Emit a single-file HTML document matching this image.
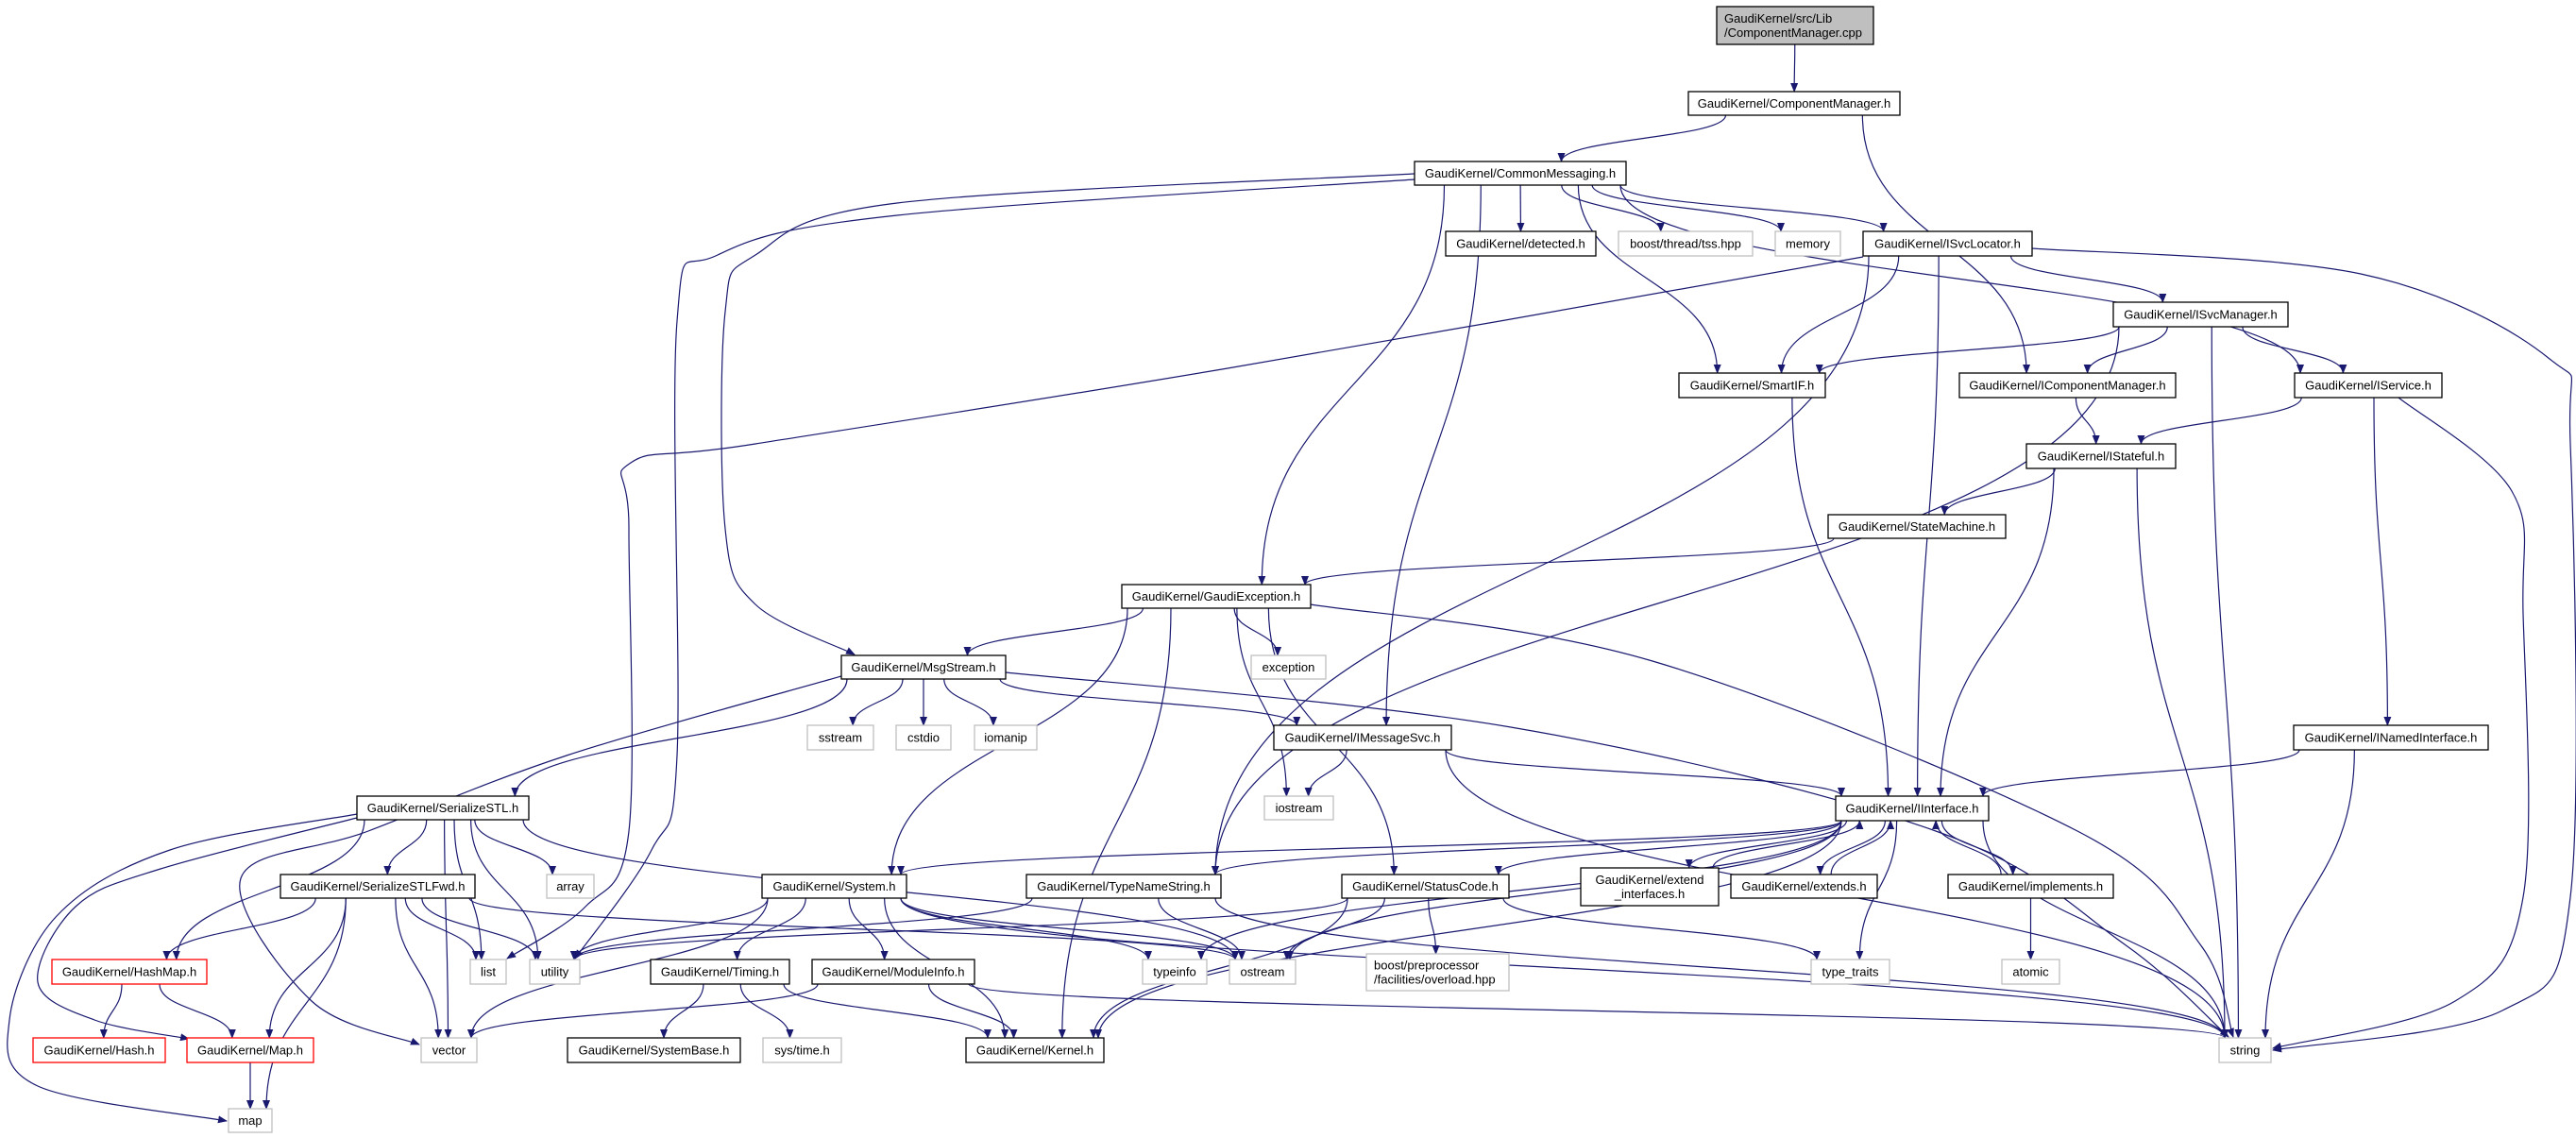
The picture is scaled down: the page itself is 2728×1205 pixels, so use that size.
<!DOCTYPE html>
<html><head><meta charset="utf-8"><style>
html,body{margin:0;padding:0;background:#fff;}
svg{display:block;}
text{font-family:"Liberation Sans",sans-serif;font-size:13px;fill:#000;}
</style></head><body>
<svg id="g" xmlns="http://www.w3.org/2000/svg" width="2728" height="1205" viewBox="0 0 2728 1205">
<defs><marker id="ah" markerWidth="10" markerHeight="8" refX="9" refY="4" orient="auto" markerUnits="userSpaceOnUse"><path d="M0,0 L10,4 L0,8 Z" fill="#191970"/></marker></defs>
<g id="E"></g><g id="N"></g>
</svg>
<script>
var N={
root:[1818,7,1984,47,["GaudiKernel/src/Lib","/ComponentManager.cpp"],"root","left"],
CMh:[1788,97,2012,122,"GaudiKernel/ComponentManager.h"],
CM:[1498,171,1722,196,"GaudiKernel/CommonMessaging.h"],
detected:[1531,245,1690,271,"GaudiKernel/detected.h"],
tss:[1714,245,1856,271,"boost/thread/tss.hpp","g"],
memory:[1880,245,1949,271,"memory","g"],
ISL:[1973,245,2152,271,"GaudiKernel/ISvcLocator.h"],
ISM:[2238,320,2423,346,"GaudiKernel/ISvcManager.h"],
SmartIF:[1778,395,1933,421,"GaudiKernel/SmartIF.h"],
ICM:[2075,395,2304,421,"GaudiKernel/IComponentManager.h"],
IService:[2430,395,2586,421,"GaudiKernel/IService.h"],
IStateful:[2146,470,2304,496,"GaudiKernel/IStateful.h"],
SM:[1936,545,2124,570,"GaudiKernel/StateMachine.h"],
GE:[1188,619,1388,644,"GaudiKernel/GaudiException.h"],
MS:[891,694,1065,719,"GaudiKernel/MsgStream.h"],
exception:[1325,694,1404,719,"exception","g"],
sstream:[855,768,925,794,"sstream","g"],
cstdio:[949,768,1007,794,"cstdio","g"],
iomanip:[1032,768,1098,794,"iomanip","g"],
IMS:[1349,768,1537,794,"GaudiKernel/IMessageSvc.h"],
INI:[2429,768,2635,794,"GaudiKernel/INamedInterface.h"],
iostream:[1339,843,1412,868,"iostream","g"],
SSTL:[378,843,560,868,"GaudiKernel/SerializeSTL.h"],
II:[1944,843,2106,869,"GaudiKernel/IInterface.h"],
SSTLF:[297,926,503,951,"GaudiKernel/SerializeSTLFwd.h"],
array:[579,926,629,951,"array","g"],
System:[807,926,960,951,"GaudiKernel/System.h"],
TNS:[1087,926,1293,951,"GaudiKernel/TypeNameString.h"],
SC:[1421,926,1598,951,"GaudiKernel/StatusCode.h"],
EI:[1674,919,1820,959,["GaudiKernel/extend","_interfaces.h"]],
extends:[1833,926,1988,951,"GaudiKernel/extends.h"],
impl:[2063,926,2238,951,"GaudiKernel/implements.h"],
HashMap:[55,1016,219,1042,"GaudiKernel/HashMap.h","r"],
list:[498,1016,536,1042,"list","g"],
utility:[561,1016,614,1042,"utility","g"],
Timing:[689,1016,836,1042,"GaudiKernel/Timing.h"],
MI:[860,1016,1032,1042,"GaudiKernel/ModuleInfo.h"],
typeinfo:[1210,1016,1278,1042,"typeinfo","g"],
ostream:[1302,1016,1372,1042,"ostream","g"],
bpp:[1447,1010,1598,1049,["boost/preprocessor","/facilities/overload.hpp"],"g","left"],
tt:[1918,1016,2001,1042,"type_traits","g"],
atomic:[2120,1016,2181,1042,"atomic","g"],
Hash:[35,1099,175,1125,"GaudiKernel/Hash.h","r"],
Map:[198,1099,332,1125,"GaudiKernel/Map.h","r"],
vector:[446,1099,505,1125,"vector","g"],
SB:[601,1099,784,1125,"GaudiKernel/SystemBase.h"],
systime:[808,1099,891,1125,"sys/time.h","g"],
Kernel:[1023,1099,1169,1125,"GaudiKernel/Kernel.h"],
string:[2350,1099,2405,1125,"string","g"],
map:[242,1174,288,1199,"map","g"]
};
var E={
root:["CMh"],CMh:["CM","ICM"],
CM:["MS","utility","GE","IMS","SmartIF","detected","tss","memory","ISL","IService"],
ISL:["list","SmartIF","II","TNS","ISM","string"],
ISM:["SmartIF","ICM","IService","string","TNS"],
ICM:["IStateful"],IService:["IStateful","INI","string"],
IStateful:["SM","II","string"],SmartIF:["II"],SM:["GE"],
GE:["MS","System","Kernel","SC","iostream","exception","string"],
MS:["vector","SSTL","sstream","cstdio","iomanip","IMS","string"],
IMS:["iostream","II","string"],INI:["II","string"],
II:["System","TNS","SC","typeinfo","ostream","EI","extends","impl","tt","string","Kernel"],
EI:["II"],extends:["II"],impl:["II","atomic"],
SSTL:["map","Map","HashMap","vector","SSTLF","list","array","utility","ostream"],
SSTLF:["HashMap","Map","map","vector","list","utility","ostream"],
HashMap:["Hash","Map"],Map:["map"],
System:["utility","vector","Timing","MI","typeinfo","ostream","Kernel","string"],
TNS:["ostream","string","utility"],
SC:["ostream","Kernel","bpp","tt","utility"],
Timing:["SB","systime","Kernel"],MI:["vector","Kernel","string"]
};
var R={
"CM>utility":[[1498,190],[950,228],[760,270],[717,340],[717,800],[690,900],[609,1015]],
"CM>MS":[[1498,184],[950,215],[800,270],[768,330],[768,560],[800,640],[905,693]],
"ISL>list":[[1973,272],[1300,390],[800,470],[668,490],[666,560],[666,880],[620,960],[537,1015]],
"MS>vector":[[891,716],[600,800],[390,880],[255,930],[330,1060],[444,1106]],
"SSTL>map":[[378,862],[180,900],[60,970],[10,1080],[40,1150],[240,1187]],
"SSTL>Map":[[378,866],[170,920],[80,960],[40,1040],[100,1080],[200,1100]],
"ISL>string":[[2152,263],[2500,290],[2700,380],[2722,470],[2722,950],[2650,1070],[2407,1112]],
"IService>string":[[2540,421],[2660,520],[2672,650],[2672,950],[2600,1060],[2407,1110]],
"GE>string":[[1388,640],[1750,700],[2200,880],[2330,1000],[2365,1098]],
"MS>string":[[1065,712],[1600,770],[2050,880],[2250,1000],[2360,1098]]
};
var NS="http://www.w3.org/2000/svg",eg=document.getElementById("E"),ng=document.getElementById("N");
function el(t,a,p){var e=document.createElementNS(NS,t);for(var k in a)e.setAttribute(k,a[k]);p.appendChild(e);return e;}
function cl(v,a,b){return Math.max(a,Math.min(b,v));}
function cr(P){var d="M"+P[0][0]+","+P[0][1];
 for(var i=0;i<P.length-1;i++){var p0=P[i-1]||P[i],p1=P[i],p2=P[i+1],p3=P[i+2]||P[i+1];
  var c1=[p1[0]+(p2[0]-p0[0])/6,p1[1]+(p2[1]-p0[1])/6],c2=[p2[0]-(p3[0]-p1[0])/6,p2[1]-(p3[1]-p1[1])/6];
  d+=" C"+c1[0]+","+c1[1]+" "+c2[0]+","+c2[1]+" "+p2[0]+","+p2[1];}
 return d;}
for(var s in E){E[s].forEach(function(t){
 var d;
 if(R[s+">"+t]){d=cr(R[s+">"+t]);}
 else{
 var A=N[s],B=N[t];var ac=(A[0]+A[2])/2,bc=(B[0]+B[2])/2;
 var sx,sy,tx,ty;
 if(B[1]>A[3]){sy=A[3];ty=B[1];
  sx=cl(ac+(bc-ac)*0.25,A[0]+6,A[2]-6);tx=cl(bc+(ac-bc)*0.15,B[0]+6,B[2]-6);}
 else{sy=A[1];ty=B[3];
  sx=cl(ac+(bc-ac)*0.25,A[0]+6,A[2]-6);tx=cl(bc+(ac-bc)*0.2,B[0]+6,B[2]-6);}
 var dy=ty-sy;
 d="M"+sx+","+sy+" C"+sx+","+(sy+dy*0.5)+" "+tx+","+(ty-dy*0.5)+" "+tx+","+ty;}
 el("path",{d:d,fill:"none",stroke:"#191970","stroke-width":"1.2","marker-end":"url(#ah)"},eg);
});}
for(var k in N){var n=N[k];var w=n[2]-n[0],h=n[3]-n[1];
 var st=n[5]=="g"?"#bfbfbf":n[5]=="r"?"#ff0000":"#000";
 el("rect",{x:n[0],y:n[1],width:w,height:h,fill:n[5]=="root"?"#bfbfbf":"#fff",stroke:st,"stroke-width":"1.3"},ng);
 var lines=Array.isArray(n[4])?n[4]:[n[4]];
 lines.forEach(function(L,i){
  var left=n[6]=="left";
  var y=n[1]+h/2+4.5+(lines.length==2?(i==0?-7.5:7.5):0);
  var t=el("text",{x:left?n[0]+8:(n[0]+n[2])/2,y:y,"text-anchor":left?"start":"middle"},ng);
  t.textContent=L;
  var mw=w-14;
  if(t.getComputedTextLength()>mw){t.setAttribute("textLength",mw);t.setAttribute("lengthAdjust","spacingAndGlyphs");}
 });
}
</script>
</body></html>
